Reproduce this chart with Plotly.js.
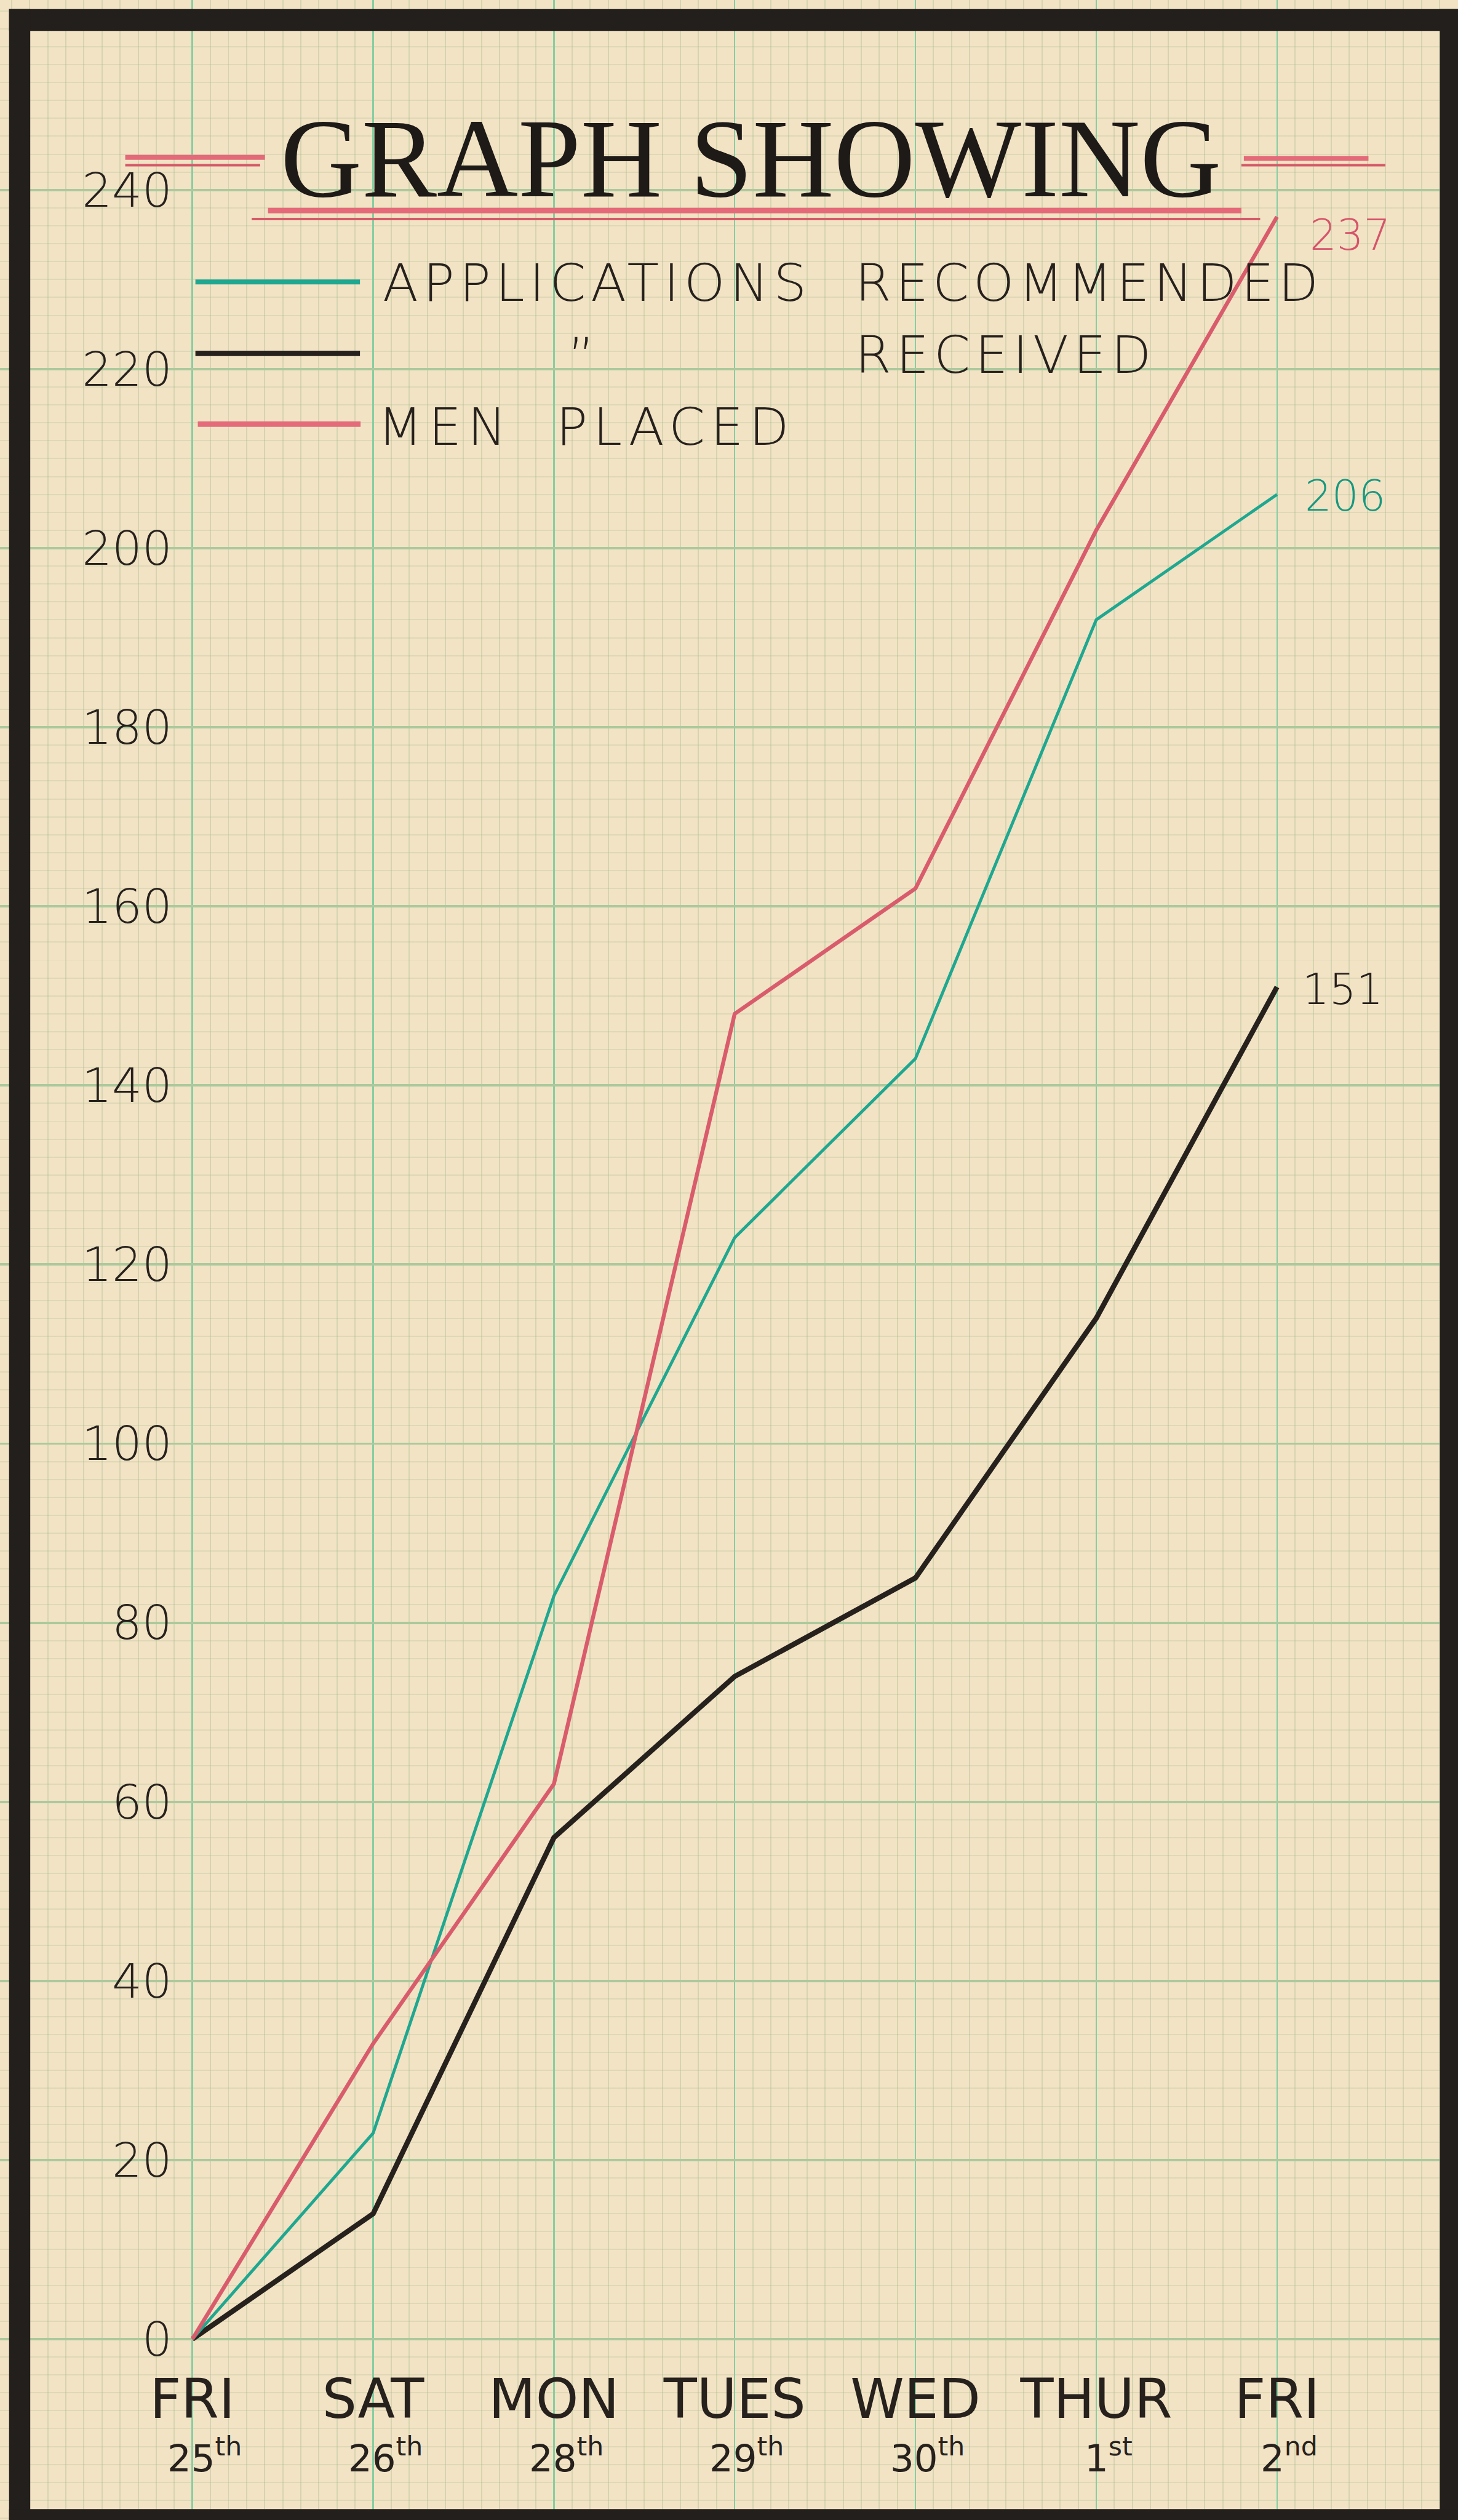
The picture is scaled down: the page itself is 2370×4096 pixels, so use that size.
<!DOCTYPE html>
<html>
<head>
<meta charset="utf-8">
<script src="https://cdn.plot.ly/plotly-3.0.1.min.js"></script>
<style>
  html, body { margin: 0; padding: 0; background: #f2e3c5; }
  #chart { width: 2370px; height: 4096px; }
</style>
</head>
<body>
<div id="chart"></div>
<script>
// ---------------- data ----------------
const dayIndex = [0, 1, 2, 3, 4, 5, 6];
const dayNames = ["FRI", "SAT", "MON", "TUES", "WED", "THUR", "FRI"];
const dayDates = ["25<sup>th</sup>", "26<sup>th</sup>", "28<sup>th</sup>", "29<sup>th</sup>", "30<sup>th</sup>", "1<sup>st</sup>", "2<sup>nd</sup>"];
const recommended = [0, 23, 83, 123, 143, 192, 206];
const received    = [0, 14, 56, 74, 85, 114, 151];
const menPlaced   = [0, 33, 62, 148, 162, 202, 237];
const yTickVals   = [0, 20, 40, 60, 80, 100, 120, 140, 160, 180, 200, 220, 240];
const yTickText   = ["0", "20", "40", "60", "80", "100", "120", "140", "160", "180", "200", "220", "240"];
const titleText   = "GRAPH SHOWING";
const legendWords = {
  rec1: "APPLICATIONS", rec2: "RECOMMENDED",
  ditto: "\u201D", recv: "RECEIVED",
  placed1: "MEN", placed2: "PLACED"
};

// ---------------- geometry helpers (reference px -> paper) ----------------
const W0 = 2410, H0 = 4165;
const S = 2370 / 2410;
const fx = x => x / W0;
const fy = y => 1 - y / H0;

const TEAL = "#1fa790";
const RED = "#d95c6c";
const INK = "#27211d";
const PAPER = "#f2e3c5";
const LABEL_FONT = "DejaVu Sans, Lato, sans-serif";

// ---------------- traces ----------------
const traces = [
  { x: dayIndex, y: received, type: "scatter", mode: "lines", name: "Received",
    line: { color: INK, width: 8.5 * S }, hoverinfo: "skip" },
  { x: dayIndex, y: recommended, type: "scatter", mode: "lines", name: "Applications Recommended",
    line: { color: TEAL, width: 5 * S }, hoverinfo: "skip" },
  { x: dayIndex, y: menPlaced, type: "scatter", mode: "lines", name: "Men Placed",
    line: { color: RED, width: 6.5 * S }, hoverinfo: "skip" }
];

// ---------------- shapes ----------------
function hline(x0, x1, y, w, color) {
  return { type: "line", xref: "paper", yref: "paper", x0: fx(x0), x1: fx(x1), y0: fy(y), y1: fy(y),
           line: { color: color, width: w * S }, layer: "above" };
}
function rect(x0, y0, x1, y1, color) {
  return { type: "rect", xref: "paper", yref: "paper", x0: fx(x0), x1: fx(x1), y0: fy(y0), y1: fy(y1),
           fillcolor: color, line: { width: 0 }, layer: "above" };
}
const shapes = [
  // black frame
  rect(15, 15, 2410, 51, "#231f1c"),
  rect(15, 15, 50, 4165, "#231f1c"),
  rect(2380, 15, 2410, 4165, "#231f1c"),
  rect(15, 4147, 2410, 4165, "#231f1c"),
  // title decorations
  hline(207, 438, 260, 8, "#e46a79"),
  hline(207, 430, 273, 4, "#d45a69"),
  hline(2056, 2262, 262, 8, "#e46a79"),
  hline(2052, 2290, 273, 4, "#d45a69"),
  hline(443, 2052, 348, 9, "#e46a79"),
  hline(416, 2083, 362, 4, "#d45a69"),
  // legend samples
  hline(323, 595, 466, 8, TEAL),
  hline(323, 595, 584, 9, INK),
  hline(327, 596, 701, 9, "#e36b7a")
];

// ---------------- annotations ----------------
function spaced(text, px) {
  return '<span style="letter-spacing:' + (px * S).toFixed(1) + 'px">' + text + '</span>';
}
function label(text, x, y, size, opts) {
  return Object.assign({
    text: text, xref: "paper", yref: "paper", x: fx(x), y: fy(y),
    xanchor: "left", yanchor: "middle", showarrow: false,
    font: { family: LABEL_FONT, size: size * S, color: INK, weight: 300 }
  }, opts || {});
}
const annotations = [
  label(titleText, 1241, 262, 186, { xanchor: "center",
    font: { family: "Liberation Serif, DejaVu Serif, serif", size: 186 * S, color: "#1e1a17" } }),
  label(spaced(legendWords.rec1, 8), 630, 468, 86),
  label(spaced(legendWords.rec2, 7), 1411, 468, 86),
  label(legendWords.ditto, 961, 590, 86, { xanchor: "center" }),
  label(spaced(legendWords.recv, 8), 1411, 587, 86),
  label(spaced(legendWords.placed1, 10), 622, 706, 86),
  label(spaced(legendWords.placed2, 9), 917, 706, 86)
];
// date line under the day names
dayIndex.forEach((d, i) => {
  annotations.push({
    text: dayDates[i], xref: "x", yref: "paper", x: d, y: fy(4058),
    xanchor: "center", yanchor: "middle", xshift: 20 * S, showarrow: false,
    font: { family: LABEL_FONT, size: 62 * S, color: INK }
  });
});
// end-of-line value labels
const last = dayIndex.length - 1;
[
  { series: menPlaced, color: "#d6546a", xs: 52, ys: -30 },
  { series: recommended, color: "#18987f", xs: 44, ys: -2 },
  { series: received, color: INK, xs: 40, ys: -4 }
].forEach(e => {
  annotations.push({
    text: String(e.series[last]), xref: "x", yref: "y", x: dayIndex[last], y: e.series[last],
    xanchor: "left", yanchor: "middle", xshift: e.xs * S, yshift: e.ys * S, showarrow: false,
    font: { family: LABEL_FONT, size: 70 * S, color: e.color, weight: 300 }
  });
});

// ---------------- axes ----------------
const x0px = 318, xStep = 298.8;      // reference px of FRI 25th and day spacing
const y0px = 3866, yUnit = 14.8;      // reference px of value 0 and px per unit

const layout = {
  width: 2370, height: 4096,
  margin: { l: 0, r: 0, t: 0, b: 0, pad: 0 },
  paper_bgcolor: PAPER, plot_bgcolor: PAPER,
  showlegend: false,
  xaxis: {
    range: [(0 - x0px) / xStep, (W0 - x0px) / xStep],
    tickmode: "array", tickvals: dayIndex, ticktext: dayNames,
    showgrid: true, gridcolor: "#86cea2", gridwidth: 2.5 * S,
    minor: { tickmode: "linear", tick0: 0, dtick: 0.1, showgrid: true,
             gridcolor: "rgba(150,180,130,0.30)", gridwidth: 2 * S },
    zeroline: false, showline: false,
    ticks: "outside", ticklen: 21 * S, tickcolor: "rgba(0,0,0,0)",
    anchor: "free", position: fy(y0px),
    tickfont: { family: LABEL_FONT, size: 90 * S, color: INK },
    automargin: false, fixedrange: true
  },
  yaxis: {
    range: [(y0px - H0) / yUnit, y0px / yUnit],
    tickmode: "array", tickvals: yTickVals, ticktext: yTickText,
    showgrid: true, gridcolor: "#abc99d", gridwidth: 4 * S,
    minor: { tickmode: "linear", tick0: 0, dtick: 2, showgrid: true,
             gridcolor: "rgba(165,185,140,0.26)", gridwidth: 2 * S },
    zeroline: false, showline: false,
    ticks: "outside", ticklen: 18 * S, tickcolor: "rgba(0,0,0,0)",
    anchor: "free", position: fx(x0px),
    tickfont: { family: LABEL_FONT, size: 78 * S, color: INK, weight: 300 },
    automargin: false, fixedrange: true
  },
  shapes: shapes,
  annotations: annotations
};

Plotly.newPlot("chart", traces, layout, { staticPlot: true, displayModeBar: false });
</script>
</body>
</html>
